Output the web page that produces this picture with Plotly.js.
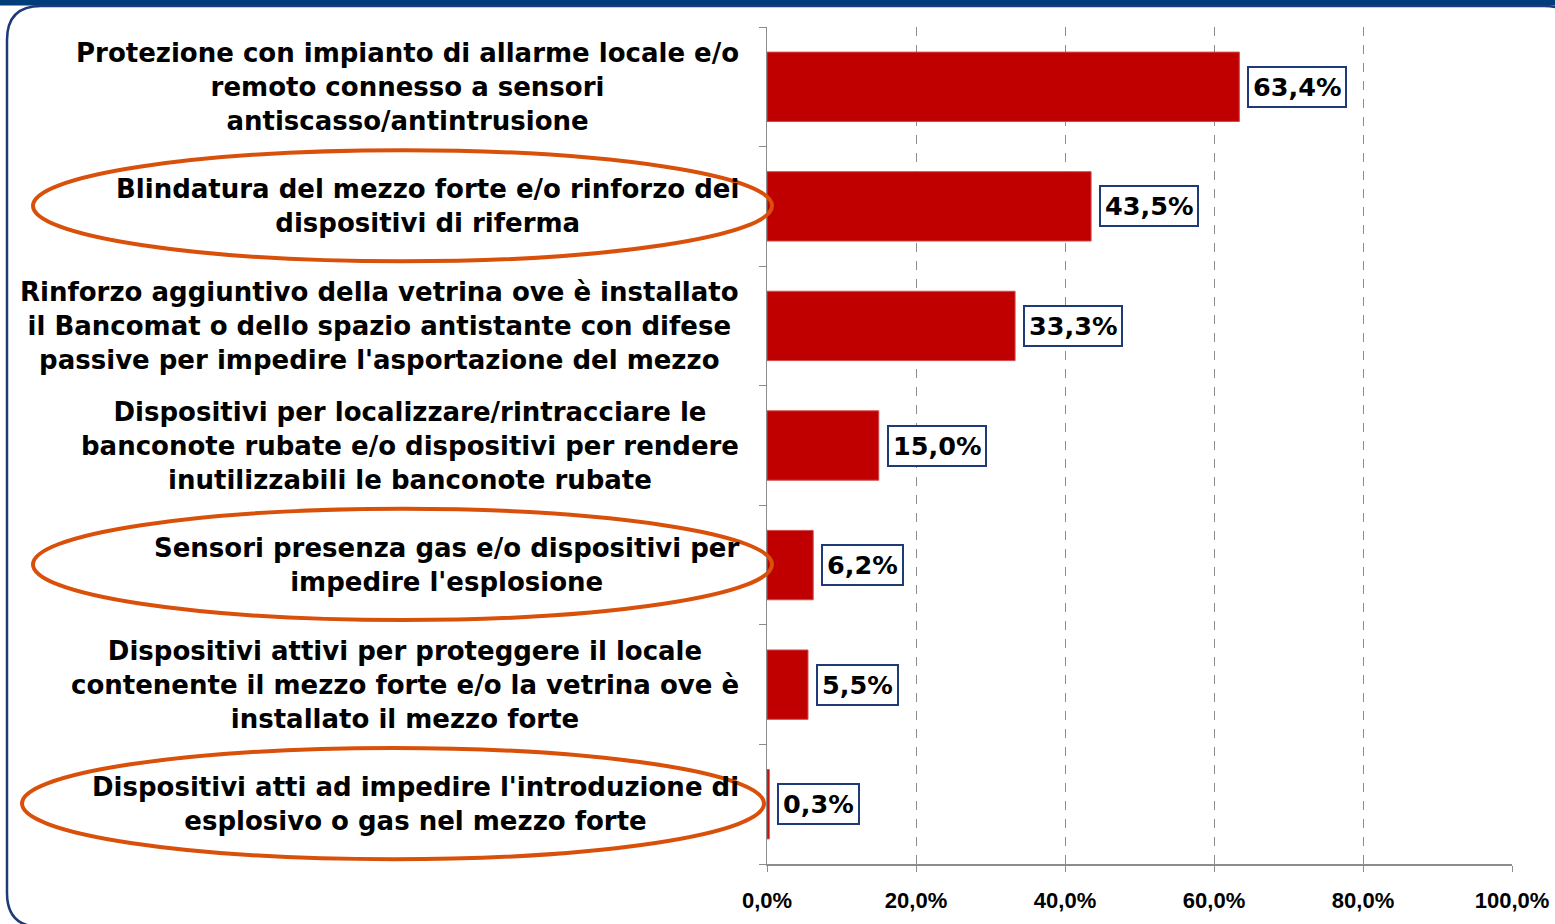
<!DOCTYPE html>
<html>
<head>
<meta charset="utf-8">
<script src="https://cdn.plot.ly/plotly-3.0.1.min.js"></script>
<style>html,body{margin:0;padding:0;background:#fff;}#chart{width:1555px;height:924px;}</style>
</head>
<body>
<div id="chart"></div>
<script>
// ---- data ----
const categories = [
  "Protezione con impianto di allarme locale e/o<br>remoto connesso a sensori<br>antiscasso/antintrusione",
  "Blindatura del mezzo forte e/o rinforzo dei<br>dispositivi di riferma",
  "Rinforzo aggiuntivo della vetrina ove è installato<br>il Bancomat o dello spazio antistante con difese<br>passive per impedire l'asportazione del mezzo",
  "Dispositivi per localizzare/rintracciare le<br>banconote rubate e/o dispositivi per rendere<br>inutilizzabili le banconote rubate",
  "Sensori presenza gas e/o dispositivi per<br>impedire l'esplosione",
  "Dispositivi attivi per proteggere il locale<br>contenente il mezzo forte e/o la vetrina ove è<br>installato il mezzo forte",
  "Dispositivi atti ad impedire l'introduzione di<br>esplosivo o gas nel mezzo forte"
];
const values = [63.4, 43.5, 33.3, 15.0, 6.2, 5.5, 0.3];
const valueLabels = ["63,4%", "43,5%", "33,3%", "15,0%", "6,2%", "5,5%", "0,3%"];
const highlighted = [1, 4, 6];
const tickValues = [0, 20, 40, 60, 80, 100];
const tickLabels = ["0,0%", "20,0%", "40,0%", "60,0%", "80,0%", "100,0%"];

// ---- layout geometry ----
const W = 1555, H = 924;
const M = {l: 767, r: 43, t: 27, b: 60};
const PW = W - M.l - M.r, PH = H - M.t - M.b;
const px = v => (v - M.l) / PW;
const py = v => 1 - (v - M.t) / PH;

const catIdx = categories.map((c, i) => i);

const trace = {
  type: 'bar',
  orientation: 'h',
  x: values,
  y: catIdx,
  width: 0.58,
  marker: {color: '#C00000', line: {color: '#D24A4A', width: 1}},
  hoverinfo: 'x'
};

const annotations = [];
categories.forEach((c, i) => {
  annotations.push({
    xref: 'paper', yref: 'y', x: px(741), y: i,
    xanchor: 'right', yanchor: 'middle', align: 'center',
    text: c, showarrow: false,
    font: {family: 'DejaVu Sans', size: 26, color: '#000', weight: 700}
  });
  annotations.push({
    xref: 'x', yref: 'y', x: values[i], y: i,
    xanchor: 'left', yanchor: 'middle', xshift: 8,
    text: valueLabels[i], showarrow: false,
    bgcolor: '#fff', bordercolor: '#1F3A78', borderwidth: 2, borderpad: 4,
    font: {family: 'DejaVu Sans', size: 25.5, color: '#000', weight: 700}
  });
});

const shapes = [];
// top band
shapes.push({type: 'rect', xref: 'paper', yref: 'paper', x0: px(-5), x1: px(W + 5), y0: py(-5), y1: py(5.5),
  fillcolor: '#003D7A', line: {width: 0}, layer: 'below'});
// rounded frame
(function(){
  const L = 7, T = 6, R = 1578, B = 927, r = 34;
  const P = (x, y) => px(x) + ',' + py(y);
  const path = 'M ' + P(L + r, T) + ' L ' + P(R - r, T) + ' Q ' + P(R, T) + ' ' + P(R, T + r) +
    ' L ' + P(R, B - r) + ' Q ' + P(R, B) + ' ' + P(R - r, B) +
    ' L ' + P(L + r, B) + ' Q ' + P(L, B) + ' ' + P(L, B - r) +
    ' L ' + P(L, T + r) + ' Q ' + P(L, T) + ' ' + P(L + r, T) + ' Z';
  shapes.push({type: 'path', xref: 'paper', yref: 'paper', path: path,
    line: {color: '#1F3A78', width: 2.5}, fillcolor: 'rgba(0,0,0,0)', layer: 'below'});
})();
// highlight ellipses
const ellX = {1: [33, 772], 4: [33, 772], 6: [22, 764]};
highlighted.forEach(i => {
  shapes.push({type: 'circle', xref: 'paper', yref: 'y',
    x0: px(ellX[i][0]), x1: px(ellX[i][1]), y0: i - 0.47, y1: i + 0.46,
    line: {color: '#D9500A', width: 4}, layer: 'above'});
});

const layout = {
  width: W, height: H,
  margin: M,
  paper_bgcolor: '#fff', plot_bgcolor: 'rgba(0,0,0,0)',
  showlegend: false,
  xaxis: {
    range: [0, 100], tickvals: tickValues, ticktext: tickLabels,
    showgrid: true, gridcolor: '#8c8c8c', griddash: 'dash', gridwidth: 1,
    zeroline: false, showline: true, linecolor: '#8c8c8c', linewidth: 1.5,
    ticks: 'outside', ticklen: 6, tickcolor: '#8c8c8c',
    ticklabelstandoff: 10,
    tickfont: {family: 'Liberation Sans', size: 22, color: '#000', weight: 700},
    fixedrange: true
  },
  yaxis: {
    type: 'linear', range: [6.5, -0.5], showticklabels: false,
    tickvals: [-0.5, 0.5, 1.5, 2.5, 3.5, 4.5, 5.5, 6.5],
    ticks: 'outside', ticklen: 7, tickcolor: '#8c8c8c',
    showgrid: false, zeroline: false, showline: true, linecolor: '#8c8c8c', linewidth: 1.5,
    fixedrange: true
  },
  annotations: annotations,
  shapes: shapes
};

Plotly.newPlot('chart', [trace], layout, {displayModeBar: false, staticPlot: true});
</script>
</body>
</html>
